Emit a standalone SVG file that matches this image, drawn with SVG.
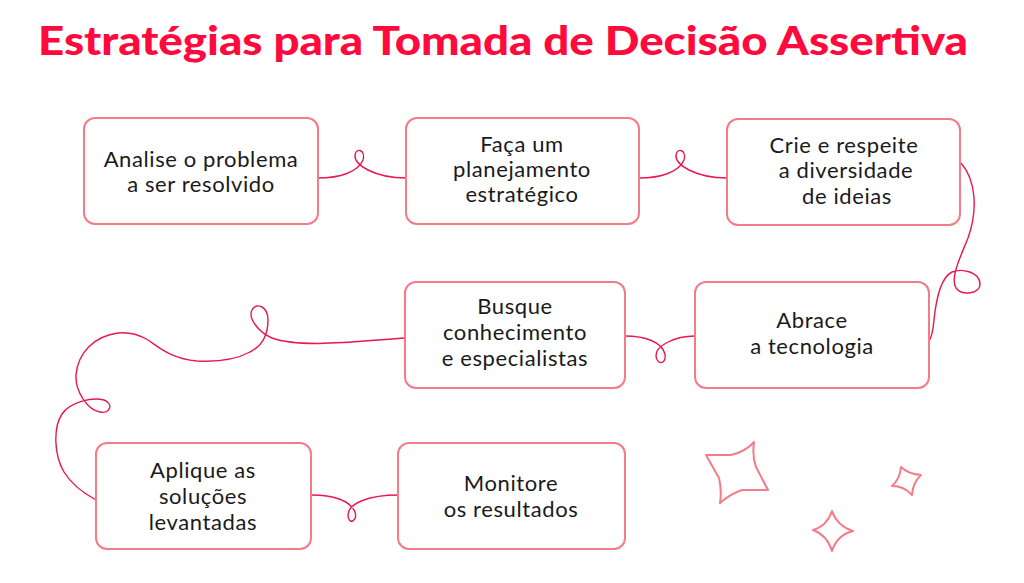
<svg xmlns="http://www.w3.org/2000/svg" width="1024" height="583" viewBox="0 0 1024 583">
<style>
.box{fill:#fff;stroke:#f47b88;stroke-width:2}
.t{font-family:Lato,"Open Sans",sans-serif;font-size:22px;letter-spacing:0.6px;fill:#1a1a1a;text-anchor:middle}
.c{fill:none;stroke:#e8184b;stroke-width:1.4}
.star{fill:#fff;stroke:#f47b88;stroke-width:2;stroke-linejoin:round}
</style>
<rect width="1024" height="583" fill="#fff"/>
<text x="38" y="55" font-family="Lato,sans-serif" font-weight="900" font-size="39" fill="#ff0a3c" textLength="930" lengthAdjust="spacingAndGlyphs">Estratégias para Tomada de Decisão Assertiva</text>
<g id="connectors">
<path class="c" d="M318,178 C340,178 358,172 363,160 C366,150 356,147 355,155 C354,165 375,178 406,178"/>
<path class="c" d="M639,178 C661,178 679,172 684,160 C687,150 677,147 676,155 C675,165 696,178 727,178"/>
<path class="c" d="M961,163 C976,180 978,210 968,238 C960,258 950,278 956,288 C962,296 980,294 980,284 C980,272 962,268 952,272 C940,278 936,300 934,320 C933,332 931,338 929,341"/>
<path class="c" d="M625,336 C645,336 662,342 665,354 C667,364 657,366 656,356 C655,346 675,336 695,336"/>
<path class="c" d="M405,338 C350,342 300,348 272,338 C258,332 248,318 252,310 C256,302 268,306 268,320 C268,335 262,346 250,352 C235,360 215,362 197,361 C172,359 160,348 148,340 C138,334 128,332 118,333 C95,336 78,352 76,375 C75,392 88,410 100,412 C110,414 114,404 104,400 C92,397 70,402 62,414 C53,428 54,455 64,472 C72,485 85,494 96,500"/>
<path class="c" d="M312,495 C332,495 350,500 355,512 C358,522 348,525 348,515 C348,503 370,495 398,495"/>
</g>
<g id="n1"><rect class="box" x="84" y="118" width="234" height="106" rx="11"/><text class="t" x="201" y="167">Analise o problema</text><text class="t" x="201" y="192">a ser resolvido</text></g>
<g id="n2"><rect class="box" x="406" y="118" width="233" height="106" rx="11"/><text class="t" x="522" y="152">Faça um</text><text class="t" x="522" y="177">planejamento</text><text class="t" x="522" y="202">estratégico</text></g>
<g id="n3"><rect class="box" x="727" y="119" width="233" height="106" rx="11"/><text class="t" x="844" y="153">Crie e respeite</text><text class="t" x="846" y="178">a diversidade</text><text class="t" x="847" y="204">de ideias</text></g>
<g id="n4"><rect class="box" x="405" y="282" width="220" height="106" rx="11"/><text class="t" x="515" y="314">Busque</text><text class="t" x="515" y="340">conhecimento</text><text class="t" x="515" y="366">e especialistas</text></g>
<g id="n5"><rect class="box" x="695" y="282" width="234" height="106" rx="11"/><text class="t" x="812" y="328">Abrace</text><text class="t" x="812" y="354">a tecnologia</text></g>
<g id="n6"><rect class="box" x="96" y="443" width="215" height="106" rx="11"/><text class="t" x="203" y="478">Aplique as</text><text class="t" x="203" y="504">soluções</text><text class="t" x="203" y="530">levantadas</text></g>
<g id="n7"><rect class="box" x="398" y="443" width="227" height="106" rx="11"/><text class="t" x="511" y="491">Monitore</text><text class="t" x="511" y="517">os resultados</text></g>
<g id="stars">
<path class="star" d="M706,455 L731,455 Q745,452 754,442 Q752,456 756,467 L768,490 L742,490 Q730,494 720,503 Q722,490 719,478 Z"/>
<path class="star" d="M901,467 Q908,474 921,475 Q913,482 912,495 Q904,486 892,486 Q900,479 901,467 Z"/>
<path class="star" d="M832,511 Q837,526 853,531 Q837,535 832,551 Q827,535 813,530 Q827,526 832,511 Z"/>
</g>
</svg>
